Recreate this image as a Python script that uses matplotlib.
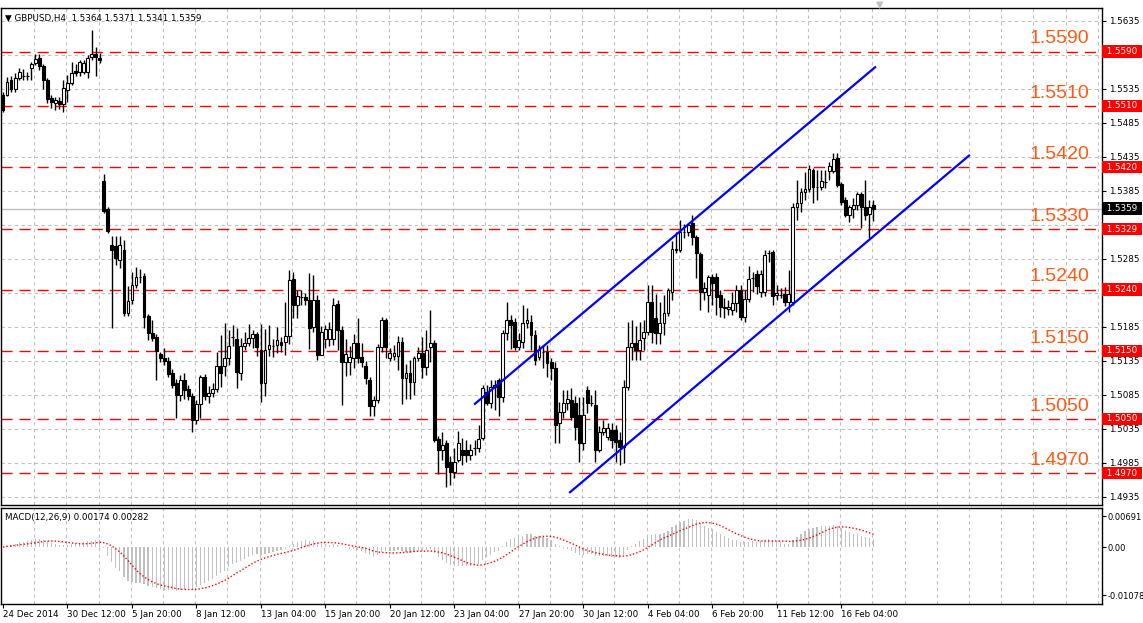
import numpy as np
import pandas as pd
import matplotlib.pyplot as plt

# GBPUSD H4, 24 Dec 2014 - 17 Feb 2015, prices
BASE = 1.4900  # opens / closes below are in points above this level

opens_pt = [626, 626, 648, 635, 651, 654, 654, 666, 673, 681,
            669, 648, 622, 614, 617, 613, 634, 644, 661, 660,
            660, 660, 682, 686, 681, 500, 459, 406, 404, 384,
            398, 306, 325, 347, 359, 360, 301, 276, 270, 245,
            239, 235, 217, 203, 185, 207, 194, 184, 148, 172,
            211, 184, 188, 194, 228, 228, 239, 270, 267, 217,
            257, 261, 269, 275, 251, 203, 253, 257, 259, 263,
            263, 272, 356, 317, 329, 329, 325, 285, 325, 244,
            267, 267, 267, 319, 281, 234, 234, 239, 261, 241,
            228, 207, 169, 178, 256, 295, 239, 242, 242, 263,
            210, 217, 204, 239, 247, 226, 256, 261, 120, 104,
            114, 86, 72, 89, 104, 104, 97, 107, 107, 122,
            189, 173, 197, 207, 182, 276, 295, 292, 256, 263,
            291, 292, 273, 241, 248, 248, 234, 225, 144, 160,
            173, 178, 173, 156, 114, 192, 173, 170, 104, 131,
            123, 134, 134, 119, 109, 197, 256, 261, 251, 269,
            278, 322, 298, 276, 291, 306, 336, 398, 398, 425,
            425, 438, 417, 392, 336, 332, 359, 359, 332, 313,
            311, 310, 320, 339, 300, 326, 357, 363, 336, 336,
            394, 395, 332, 332, 334, 322, 322, 461, 467, 484,
            488, 516, 491, 491, 498, 514, 514, 534, 495, 472,
            450, 459, 464, 481, 461, 451, 464]

closes_pt = [604, 645, 635, 651, 660, 654, 654, 672, 679, 669,
             648, 620, 616, 619, 613, 636, 644, 659, 659, 675,
             673, 681, 686, 682, 678, 456, 426, 398, 386, 406,
             306, 323, 347, 359, 359, 300, 276, 269, 250, 239,
             235, 216, 200, 185, 207, 192, 184, 148, 172, 211,
             184, 188, 194, 228, 217, 239, 257, 270, 219, 257,
             261, 269, 275, 256, 203, 251, 259, 257, 266, 259,
             272, 354, 317, 331, 329, 325, 284, 325, 244, 278,
             282, 282, 317, 281, 234, 245, 241, 261, 239, 234,
             210, 169, 178, 256, 295, 256, 247, 247, 263, 210,
             217, 204, 239, 247, 226, 251, 261, 119, 104, 111,
             79, 72, 86, 114, 97, 97, 104, 107, 120, 195,
             173, 197, 200, 182, 276, 295, 288, 256, 266, 291,
             295, 273, 236, 251, 248, 232, 225, 141, 160, 173,
             179, 153, 138, 114, 156, 173, 173, 104, 131, 136,
             136, 119, 116, 109, 197, 256, 261, 251, 266, 278,
             322, 278, 276, 291, 306, 339, 400, 400, 425, 425,
             435, 417, 394, 336, 342, 359, 350, 329, 314, 314,
             314, 320, 339, 300, 326, 356, 357, 345, 363, 391,
             394, 331, 335, 332, 322, 334, 461, 467, 484, 488,
             517, 491, 491, 500, 498, 522, 532, 494, 469, 450,
             461, 464, 481, 461, 450, 461, 459]

# upper shadow length above the body, points
upper_wick_pt = [5, 8, 6, 8, 6, 10, 6, 3, 7, 5,
                 3, 3, 4, 4, 6, 12, 12, 16, 11, 3,
                 5, 4, 36, 11, 7, 10, 2, 13, 15, 13,
                 15, 22, 19, 14, 11, 4, 3, 19, 5, 3,
                 15, 6, 6, 6, 7, 10, 6, 4, 6, 3,
                 5, 10, 9, 20, 45, 52, 24, 18, 17, 12,
                 17, 20, 6, 3, 38, 31, 29, 10, 19, 7,
                 50, 15, 10, 8, 10, 6, 39, 36, 7, 8,
                 6, 10, 11, 6, 5, 22, 16, 14, 37, 20,
                 7, 4, 6, 4, 5, 3, 7, 12, 9, 7,
                 14, 19, 3, 9, 23, 30, 49, 5, 5, 20,
                 5, 9, 21, 18, 18, 15, 9, 12, 21, 5,
                 11, 10, 7, 3, 5, 27, 8, 6, 10, 26,
                 18, 11, 8, 8, 11, 11, 5, 9, 15, 19,
                 13, 17, 11, 26, 26, 6, 12, 22, 8, 12,
                 8, 10, 7, 12, 10, 36, 34, 25, 26, 17,
                 25, 25, 36, 31, 26, 3, 11, 25, 17, 11,
                 3, 12, 3, 3, 9, 2, 4, 5, 7, 14,
                 11, 16, 8, 8, 13, 19, 9, 6, 6, 7,
                 4, 3, 12, 10, 10, 35, 6, 34, 5, 25,
                 6, 3, 25, 16, 18, 6, 9, 7, 3, 4,
                 3, 11, 3, 3, 40, 11, 8]

lows = [1.5501, 1.5525, 1.5531, 1.5531, 1.5548, 1.5548, 1.5548, 1.5548, 1.5570, 1.5563,
        1.5535, 1.5514, 1.5507, 1.5504, 1.5506, 1.5501, 1.5516, 1.5541, 1.5554, 1.5554,
        1.5557, 1.5551, 1.5578, 1.5554, 1.5573, 1.5353, 1.5323, 1.5184, 1.5276, 1.5272,
        1.5201, 1.5201, 1.5219, 1.5242, 1.5250, 1.5184, 1.5166, 1.5164, 1.5107, 1.5134,
        1.5129, 1.5111, 1.5095, 1.5051, 1.5076, 1.5079, 1.5078, 1.5031, 1.5042, 1.5051,
        1.5078, 1.5073, 1.5082, 1.5089, 1.5097, 1.5113, 1.5129, 1.5157, 1.5095, 1.5107,
        1.5151, 1.5157, 1.5154, 1.5142, 1.5075, 1.5084, 1.5142, 1.5141, 1.5147, 1.5148,
        1.5144, 1.5160, 1.5198, 1.5198, 1.5217, 1.5217, 1.5153, 1.5178, 1.5136, 1.5144,
        1.5154, 1.5157, 1.5159, 1.5151, 1.5070, 1.5113, 1.5114, 1.5125, 1.5132, 1.5126,
        1.5101, 1.5054, 1.5054, 1.5073, 1.5148, 1.5139, 1.5135, 1.5136, 1.5122, 1.5072,
        1.5079, 1.5079, 1.5085, 1.5135, 1.5110, 1.5114, 1.5134, 1.5016, 1.4969, 1.4989,
        1.4950, 1.4953, 1.4963, 1.4986, 1.4982, 1.4986, 1.4989, 1.4997, 1.5001, 1.5019,
        1.5070, 1.5066, 1.5063, 1.5054, 1.5075, 1.5166, 1.5153, 1.5151, 1.5151, 1.5154,
        1.5184, 1.5151, 1.5129, 1.5136, 1.5125, 1.5111, 1.5107, 1.5014, 1.5014, 1.5051,
        1.5063, 1.5048, 1.5019, 1.4986, 1.5004, 1.5059, 1.5069, 1.4986, 1.5001, 1.5026,
        1.5019, 1.5007, 1.4986, 1.4982, 1.4985, 1.5092, 1.5136, 1.5136, 1.5136, 1.5151,
        1.5173, 1.5161, 1.5160, 1.5160, 1.5173, 1.5201, 1.5225, 1.5294, 1.5295, 1.5316,
        1.5319, 1.5306, 1.5257, 1.5210, 1.5225, 1.5207, 1.5217, 1.5203, 1.5200, 1.5198,
        1.5203, 1.5203, 1.5207, 1.5195, 1.5192, 1.5222, 1.5236, 1.5234, 1.5229, 1.5231,
        1.5281, 1.5217, 1.5225, 1.5228, 1.5216, 1.5207, 1.5217, 1.5342, 1.5354, 1.5372,
        1.5384, 1.5367, 1.5372, 1.5386, 1.5389, 1.5401, 1.5411, 1.5391, 1.5364, 1.5347,
        1.5339, 1.5345, 1.5357, 1.5331, 1.5342, 1.5316, 1.5341]

date_labels = ["24 Dec 2014", "30 Dec 12:00", "5 Jan 20:00", "8 Jan 12:00", "13 Jan 04:00",
               "15 Jan 20:00", "20 Jan 12:00", "23 Jan 04:00", "27 Jan 20:00", "30 Jan 12:00",
               "4 Feb 04:00", "6 Feb 20:00", "11 Feb 12:00", "16 Feb 04:00"]

levels = [1.5590, 1.5510, 1.5420, 1.5329, 1.5240, 1.5150, 1.5050, 1.4970]
level_texts = ["1.5590", "1.5510", "1.5420", "1.5330", "1.5240", "1.5150", "1.5050", "1.4970"]
last_price = 1.5359

# channel lines: (bar, price) end points
chan_upper = [(117.1, 1.5072), (216.4, 1.5567)]
chan_lower = [(140.7, 1.4942), (239.7, 1.5437)]

n = min(len(opens_pt), len(closes_pt), len(upper_wick_pt), len(lows))
o = BASE + np.array(opens_pt[:n]) / 1e4
c = BASE + np.array(closes_pt[:n]) / 1e4
h = np.maximum(o, c) + np.array(upper_wick_pt[:n]) / 1e4
l = np.minimum(np.array(lows[:n]), np.minimum(o, c))
x = np.arange(n)

# MACD(12,26,9) as MT4 does it (EMA lines, SMA signal)
cs = pd.Series(c)
macd = cs.ewm(span=12, adjust=False).mean() - cs.ewm(span=26, adjust=False).mean()
signal = macd.rolling(9, min_periods=1).mean()

W, H = 1143, 623
fig = plt.figure(figsize=(W / 100, H / 100), dpi=100)
plt.rcParams["font.family"] = ["DejaVu Sans"]
FS = 6.3

ax = fig.add_axes([1 / W, (H - 505) / H, 1101 / W, 497 / H])
ax2 = fig.add_axes([1 / W, (H - 604) / H, 1101 / W, 96 / H])
XMAX = 272.7

grid_kw = dict(color="#c0c0c0", lw=0.8, linestyle=(0, (3, 3)), zorder=0)
for a in (ax, ax2):
    a.set_xlim(-0.5, XMAX)
    for gx in np.arange(8, XMAX, 8):
        a.axvline(gx - 0.3, **grid_kw)
    for s in a.spines.values():
        s.set_color("black")
        s.set_linewidth(1)

# price panel
ylo, yhi = 1.49232, 1.56541
ax.set_ylim(ylo, yhi)
yt = np.arange(1.4935, 1.5640, 0.005)
for gy in yt:
    ax.axhline(gy, **grid_kw)
hidden = {"1.5585", "1.5335", "1.5235"}  # covered by the level boxes
ax.yaxis.tick_right()
ax.set_yticks(yt)
ax.set_yticklabels(["" if f"{v:.4f}" in hidden else f"{v:.4f}" for v in yt], fontsize=FS)
ax.tick_params(axis="y", length=3, width=0.8, pad=2)
ax.set_xticks([])

ax.axhline(last_price, color="#c0c0c0", lw=1, zorder=1)
for lv in levels:
    ax.axhline(lv, color="red", lw=1, linestyle=(0, (8, 5)), zorder=2)
box_kw = dict(fontsize=FS, color="white", va="center", ha="left", clip_on=False, zorder=5)
for lv, t in zip(levels, level_texts):
    ax.annotate(t, (0.934, lv), xycoords=("axes fraction", "data"), xytext=(0, 3),
                textcoords="offset points", fontsize=14, color="#ff5a14",
                family="Liberation Sans", va="bottom", ha="left", zorder=3)
    ax.text(1.002, lv, f" {lv:.4f} ", transform=ax.get_yaxis_transform(),
            bbox=dict(boxstyle="square,pad=0.2", fc="red", ec="none"), **box_kw)
ax.text(1.002, last_price, f" {last_price:.4f} ", transform=ax.get_yaxis_transform(),
        bbox=dict(boxstyle="square,pad=0.2", fc="black", ec="none"), **box_kw)

# candles
ax.vlines(x, l, h, color="black", lw=1, zorder=4)
up = c >= o
ax.bar(x[up], (c - o)[up] + 0.00002, bottom=o[up], width=0.7, color="white",
       edgecolor="black", lw=0.8, zorder=5)
ax.bar(x[~up], (o - c)[~up], bottom=c[~up], width=0.7, color="black",
       edgecolor="black", lw=0.8, zorder=5)

for ch in (chan_upper, chan_lower):
    ax.plot([p[0] for p in ch], [p[1] for p in ch], color="#0000ff", lw=1.6, zorder=6)

ax.text(0.004, 0.988, "\u25bc GBPUSD,H4  1.5364 1.5371 1.5341 1.5359", transform=ax.transAxes,
        fontsize=FS, va="top", ha="left")

# MACD panel
ax2.set_ylim(-0.0127, 0.0087)
ax2.bar(x, macd, width=0.3, color="#c0c0c0", zorder=2)
ax2.plot(x, signal, color="red", lw=1, linestyle=(0, (1, 1.5)), zorder=3)
ax2.yaxis.tick_right()
ax2.set_yticks([0.00691, 0.0, -0.01078])
ax2.set_yticklabels(["0.00691", "0.00", "-0.01078"], fontsize=6)
ax2.tick_params(axis="y", length=3, width=0.8, pad=1)
ax2.text(0.004, 0.95, "MACD(12,26,9) 0.00174 0.00282", transform=ax2.transAxes,
         fontsize=FS, va="top", ha="left")
ax2.set_xticks(np.arange(len(date_labels)) * 16)
ax2.set_xticklabels(date_labels, fontsize=FS, ha="left")
ax2.tick_params(axis="x", length=3, width=0.8, pad=1)

fig.text(880 / W, 1 - 5 / H, "\u25bc", color="#c0c0c0", fontsize=7, ha="center", va="center")

fig.savefig("out.png", dpi=100)
